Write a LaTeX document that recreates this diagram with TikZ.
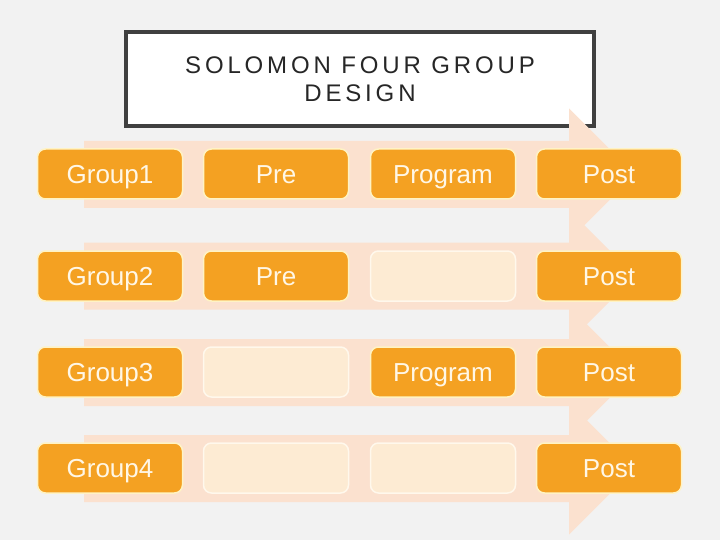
\documentclass[tikz,border=0pt]{standalone}
\usepackage{fontspec}
\setmainfont{Liberation Sans}
\definecolor{bg}{HTML}{F2F2F2}
\definecolor{peach}{HTML}{FBE1CF}
\definecolor{orng}{HTML}{F4A122}
\definecolor{cream}{HTML}{FFF3C4}
\definecolor{lightbox}{HTML}{FDEBD3}
\definecolor{lightedge}{HTML}{FFF8EC}
\definecolor{titleedge}{HTML}{404040}
\definecolor{titletext}{HTML}{262626}
\definecolor{boxtext}{HTML}{FFF7E6}
\tikzset{
  fullbox/.style={rectangle, rounded corners=8pt, minimum width=145pt, minimum height=50pt,
    fill=orng, draw=cream, line width=1.5pt, text=boxtext, inner sep=0pt,
    text height=18.6pt, text depth=0pt,
    font=\fontsize{26}{30}\selectfont},
  emptybox/.style={rectangle, rounded corners=8pt, minimum width=145pt, minimum height=50pt,
    fill=lightbox, draw=lightedge, line width=1.5pt, inner sep=0pt},
  rowarrow/.style={fill=peach, draw=none},
  titlebox/.style={rectangle, draw=titleedge, fill=white, line width=4pt,
    minimum width=468pt, minimum height=94pt, inner sep=0pt}
}
\begin{document}
\begin{tikzpicture}[x=1pt,y=-1pt]
\fill[bg] (0,0) rectangle (720,540);
\useasboundingbox (0,0) rectangle (720,540);
% title
\node[titlebox] (title) at (360,79) {};
\node[align=center, text=titletext, font=\fontsize{24}{28}\selectfont\addfontfeature{LetterSpace=16}] (titletxt) at (360,79) {SOLOMON FOUR GROUP\\DESIGN};
% arrows
\foreach \cy in {174.5,276,372.5,468.5}{
  \fill[rowarrow] (84,\cy-33.5) -- (569,\cy-33.5) -- (569,\cy-66) -- (635,\cy) -- (569,\cy+66) -- (569,\cy+33.5) -- (84,\cy+33.5) -- cycle;
}
% row 1
\node[fullbox] (g1) at (110,174) {Group1};
\node[fullbox] (pre1) at (276,174) {Pre};
\node[fullbox] (prog1) at (443,174) {Program};
\node[fullbox] (post1) at (609,174) {Post};
% row 2
\node[fullbox] (g2) at (110,276) {Group2};
\node[fullbox] (pre2) at (276,276) {Pre};
\node[emptybox] (prog2) at (443,276) {};
\node[fullbox] (post2) at (609,276) {Post};
% row 3
\node[fullbox] (g3) at (110,372) {Group3};
\node[emptybox] (pre3) at (276,372) {};
\node[fullbox] (prog3) at (443,372) {Program};
\node[fullbox] (post3) at (609,372) {Post};
% row 4
\node[fullbox] (g4) at (110,468) {Group4};
\node[emptybox] (pre4) at (276,468) {};
\node[emptybox] (prog4) at (443,468) {};
\node[fullbox] (post4) at (609,468) {Post};
\end{tikzpicture}
\end{document}
